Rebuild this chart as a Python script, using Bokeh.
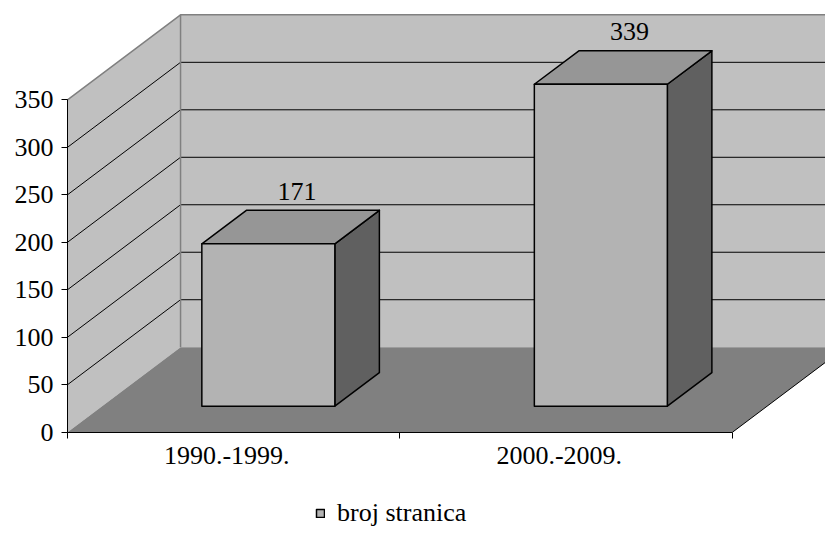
from bokeh.plotting import figure
from bokeh.models import Range1d, LinearAxis, FixedTicker, Legend, LegendItem, ColumnDataSource
from bokeh.embed import file_html
from bokeh.resources import INLINE

# ---- data ----
categories = ["1990.-1999.", "2000.-2009."]
values = [171, 339]
y_ticks = [0, 50, 100, 150, 200, 250, 300, 350]
series_name = "broj stranica"

# ---- 3D projection style constants ----
DX = 0.34      # depth offset in category units
DY = 89.5      # depth offset in value units
F0, F1 = 0.306, 0.70   # bar depth span (fraction of full depth)
BW = 0.4       # bar width in category units
LABEL_PAD = 20    # value-label centre above bar's back top, value units
CAT_LABEL_SHIFT = -0.021  # category label nudge (category units)
YMAX = y_ticks[-1]
NCAT = len(categories)
FONT = "Liberation Serif"
FS = "26px"

p = figure(width=825, height=526, output_backend="svg", toolbar_location=None,
           x_range=Range1d(-0.2015, 2.2797), y_range=Range1d(-99.3, 454.6),
           min_border=0, outline_line_color=None, x_axis_type=None, y_axis_type=None)
p.xgrid.visible = False
p.ygrid.visible = False

wall = "#c0c0c0"
edge = "#808080"

# back wall
p.patch([DX, NCAT + DX + 1, NCAT + DX + 1, DX], [DY, DY, YMAX + DY, YMAX + DY],
        fill_color=wall, line_color=None)
# left wall
p.patch([0, 0, DX, DX], [0, YMAX, YMAX + DY, DY], fill_color=wall, line_color=None)
# floor
p.patch([0, NCAT, NCAT + DX, DX], [0, 0, DY, DY], fill_color="#808080", line_color=None)

# gridlines (left wall diagonals + back wall horizontals)
gx, gy = [], []
for v in y_ticks[1:-1]:
    gx.append([0, DX, NCAT + DX + 1])
    gy.append([v, v + DY, v + DY])
p.multi_line(gx, gy, line_color="black", line_width=1)

# wall outer edges
p.line([0, DX, NCAT + DX + 1], [YMAX, YMAX + DY, YMAX + DY], line_color=edge, line_width=1.5)
p.line([DX, DX], [DY, YMAX + DY], line_color=edge, line_width=1.5)
# floor right edge
p.line([NCAT, NCAT + DX], [0, DY], line_color="black", line_width=1)

# bars
fx, fy, tx, ty, sx, sy = [], [], [], [], [], []
for i, v in enumerate(values):
    c = i + 0.5
    xl0 = c - BW / 2 + F0 * DX
    xr0 = c + BW / 2 + F0 * DX
    xl1 = c - BW / 2 + F1 * DX
    xr1 = c + BW / 2 + F1 * DX
    y00 = F0 * DY
    y10 = F1 * DY
    fx.append([xl0, xr0, xr0, xl0]); fy.append([y00, y00, v + y00, v + y00])
    tx.append([xl0, xr0, xr1, xl1]); ty.append([v + y00, v + y00, v + y10, v + y10])
    sx.append([xr0, xr1, xr1, xr0]); sy.append([y00, y10, v + y10, v + y00])

p.patches(sx, sy, fill_color="#606060", line_color="black", line_width=1.5, line_join="round")
p.patches(tx, ty, fill_color="#969696", line_color="black", line_width=1.5, line_join="round")
front = p.patches(fx, fy, fill_color="#b3b3b3", line_color="black", line_width=1.5, line_join="round")

# value labels
lab = ColumnDataSource(dict(
    x=[i + 0.5 + 0.56 * DX for i in range(NCAT)],
    y=[v + F1 * DY + LABEL_PAD for v in values],
    t=[str(v) for v in values]))
p.text(x="x", y="y", text="t", source=lab, text_align="center", text_baseline="middle",
       text_font=FONT, text_font_size=FS, text_color="black")

# y axis (front plane)
yax = LinearAxis(fixed_location=0, bounds=(0, YMAX), ticker=FixedTicker(ticks=y_ticks, minor_ticks=[]))
yax.axis_line_color = "black"
yax.major_tick_out = 6
yax.major_tick_in = 0
yax.minor_tick_out = 0
yax.major_tick_line_color = "black"
yax.major_label_standoff = 8
yax.major_label_text_font = FONT
yax.major_label_text_font_size = FS
yax.major_label_text_color = "black"
p.add_layout(yax, "left")

# x axis (front floor edge)
cat_pos = [i + 0.5 + CAT_LABEL_SHIFT for i in range(NCAT)]
xax = LinearAxis(fixed_location=0, bounds=(0, NCAT),
                 ticker=FixedTicker(ticks=cat_pos, minor_ticks=[float(i) for i in range(NCAT + 1)]))
xax.major_label_overrides = {pos: name for pos, name in zip(cat_pos, categories)}
xax.axis_line_color = "black"
xax.major_tick_out = 0
xax.major_tick_in = 0
xax.minor_tick_out = 6
xax.minor_tick_in = 0
xax.minor_tick_line_color = "black"
xax.major_label_standoff = 9
xax.major_label_text_font = FONT
xax.major_label_text_font_size = FS
xax.major_label_text_color = "black"
p.add_layout(xax, "below")

legend = Legend(items=[LegendItem(label=series_name, renderers=[front])],
                location=(315, -2), orientation="horizontal",
                glyph_width=10, glyph_height=10, label_standoff=12,
                padding=0, margin=0, spacing=0,
                border_line_color=None, background_fill_alpha=0,
                label_text_font=FONT, label_text_font_size=FS, label_text_color="black")
p.add_layout(legend, "center")

open("out.html", "w").write(file_html(p, INLINE))
